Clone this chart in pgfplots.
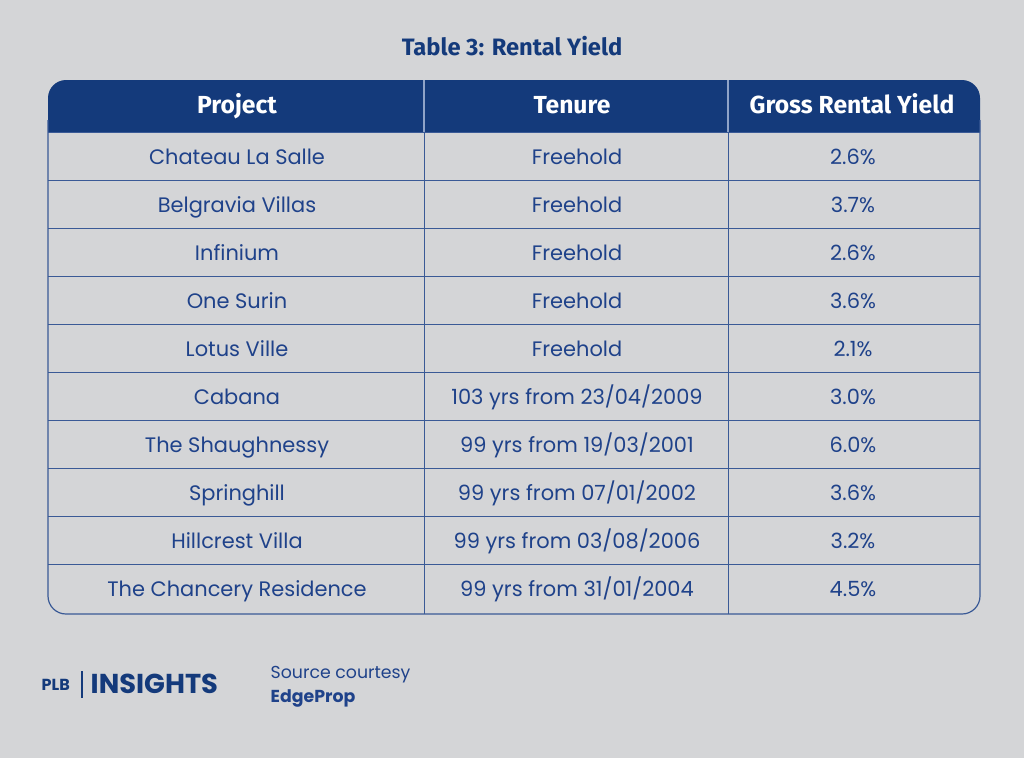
\documentclass[border=0pt]{standalone}
\usepackage{fontspec}
\setmainfont{Poppins}
\newfontfamily\condfont{Fira Sans}
\usepackage{pgfplots}
\pgfplotsset{compat=1.18}
\usepackage{pgfplotstable}
\definecolor{bg}{HTML}{D4D5D7}
\definecolor{hdr}{HTML}{143A7B}
\definecolor{txt}{HTML}{1F428A}
\definecolor{ln}{HTML}{3A5A96}
\definecolor{hln}{HTML}{8FA3C8}

\pgfplotstableread[col sep=comma]{
y,project,tenure,yield
157,Chateau La Salle,Freehold,2.6\%
205,Belgravia Villas,Freehold,3.7\%
253,Infinium,Freehold,2.6\%
301,One Surin,Freehold,3.6\%
349,Lotus Ville,Freehold,2.1\%
397,Cabana,103 yrs from 23/04/2009,3.0\%
445,The Shaughnessy,99 yrs from 19/03/2001,6.0\%
493,Springhill,99 yrs from 07/01/2002,3.6\%
541,Hillcrest Villa,99 yrs from 03/08/2006,3.2\%
589,The Chancery Residence,99 yrs from 31/01/2004,4.5\%
}\rentaldata

\begin{document}
\begin{tikzpicture}
\begin{axis}[
  scale only axis, width=768pt, height=568.5pt,
  xmin=0, xmax=1024, ymin=0, ymax=758, y dir=reverse,
  axis lines=none, clip=false, enlargelimits=false,
  nodes near coords style={anchor=center, text=txt, font=\fontsize{15.7}{18}\selectfont, text height=11pt, text depth=0pt, inner sep=0pt},
]
\fill[bg] (0,0) rectangle (1024,758);
% header
\fill[hdr] (48,132) {[rounded corners=13.5pt] -- (48,80) -- (980,80)} -- (980,132) -- cycle;
\draw[hln, line width=0.8pt] (424,80) -- (424,132) (728,80) -- (728,132);
% grid
\pgfplotsinvokeforeach{180,228,276,324,372,420,468,516,564}{\draw[ln, line width=0.75pt] (48,#1) -- (980,#1);}
\draw[ln, line width=0.75pt] (424,132) -- (424,614) (728,132) -- (728,614);
\draw[ln, line width=0.75pt] (48,132) -- (980,132);
\draw[ln, line width=0.9pt, rounded corners=13.5pt] (48,120) -- (48,614) -- (980,614) -- (980,120);
% header texts
\tikzset{hdrtxt/.style={text=white, font=\condfont\bfseries\fontsize{18.5}{21}\selectfont, text height=12.7pt, text depth=0pt, inner sep=0pt}}
\node[hdrtxt] at (237,105) {Project};
\node[hdrtxt] at (572,105) {Tenure};
\node[hdrtxt] at (852,105) {Gross Rental Yield};
% title
\node[text=hdr, font=\condfont\bfseries\fontsize{17.8}{20}\selectfont, text height=12.2pt, text depth=0pt, inner sep=0pt] at (512,47) {Table 3: Rental Yield};
% data
\addplot[only marks, mark=none, nodes near coords, point meta=explicit symbolic] table[x expr=237, y=y, meta=project] {\rentaldata};
\addplot[only marks, mark=none, nodes near coords, point meta=explicit symbolic] table[x expr=577, y=y, meta=tenure] {\rentaldata};
\addplot[only marks, mark=none, nodes near coords, point meta=explicit symbolic] table[x expr=853, y=y, meta=yield] {\rentaldata};
% footer
\node[anchor=west, text=hdr, font=\bfseries\fontsize{12}{14}\selectfont] at (37,685) {PLB};
\draw[hdr, line width=1.2pt] (82,671) -- (82,698);
\node[anchor=west, text=hdr, font=\bfseries\fontsize{20.5}{23}\selectfont] at (86,684) {INSIGHTS};
\node[anchor=west, text=txt, font=\fontsize{13}{15}\selectfont] at (266,675) {Source courtesy};
\node[anchor=west, text=txt, font=\bfseries\fontsize{13}{15}\selectfont] at (266,698) {EdgeProp};
\end{axis}
\end{tikzpicture}
\end{document}
